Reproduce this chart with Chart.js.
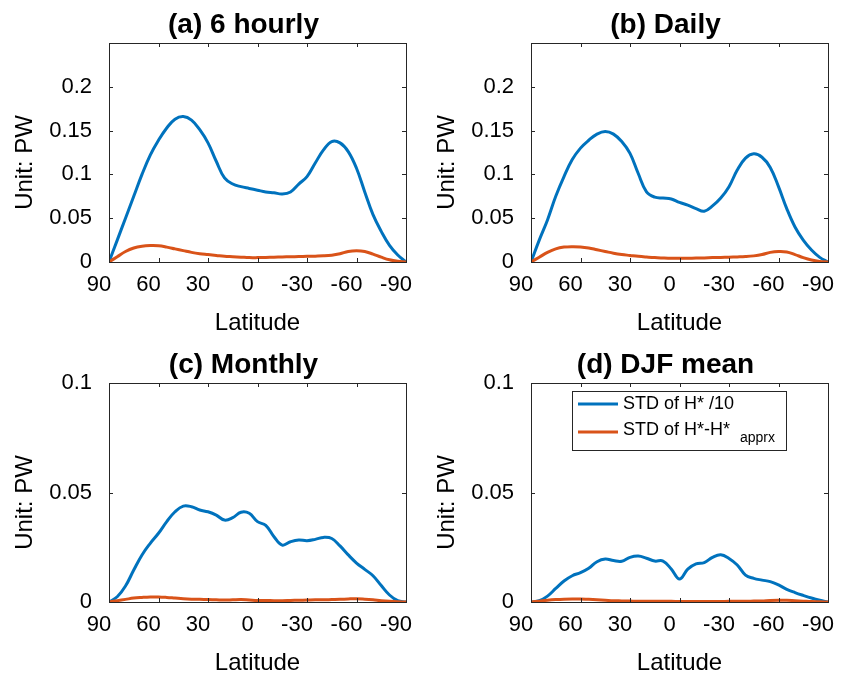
<!DOCTYPE html>
<html>
<head>
<meta charset="utf-8">
<script src="https://cdn.jsdelivr.net/npm/chart.js@4.4.0/dist/chart.umd.min.js"></script>
<style>
  html, body { margin: 0; padding: 0; background: #fff; }
  #fig { position: relative; width: 848px; height: 680px; }
  .panel { position: absolute; width: 424px; height: 340px; }
</style>
</head>
<body>
<div id="fig">
  <div class="panel" style="left:0;top:0"><canvas id="pa" width="424" height="340"></canvas></div>
  <div class="panel" style="left:424px;top:0"><canvas id="pb" width="424" height="340"></canvas></div>
  <div class="panel" style="left:0;top:340px"><canvas id="pc" width="424" height="340"></canvas></div>
  <div class="panel" style="left:424px;top:340px"><canvas id="pd" width="424" height="340"></canvas></div>
</div>
<script>
// latitude, 90N -> 90S every 5 degrees
const lat = [90, 85, 80, 75, 70, 65, 60, 55, 50, 45, 40, 35, 30, 25, 20, 15, 10, 5, 0,
  -5, -10, -15, -20, -25, -30, -35, -40, -45, -50, -55, -60, -65, -70, -75, -80, -85, -90];

// STD of H* /10 (blue) and STD of H*-H*apprx (orange), PW
const std6h = [0, 0.025, 0.050, 0.075, 0.100, 0.122, 0.139, 0.153, 0.163, 0.166, 0.162, 0.151, 0.136, 0.115, 0.096, 0.089, 0.086, 0.084, 0.082,
  0.080, 0.079, 0.0777, 0.080, 0.089, 0.0975, 0.113, 0.128, 0.1375, 0.136, 0.126, 0.107, 0.080, 0.054, 0.035, 0.019, 0.008, 0];
const err6h = [0, 0.006, 0.012, 0.016, 0.018, 0.0187, 0.0185, 0.017, 0.015, 0.013, 0.011, 0.0095, 0.0085, 0.0075, 0.0065, 0.006, 0.0055, 0.005, 0.005,
  0.0052, 0.0055, 0.0058, 0.006, 0.0062, 0.0065, 0.0067, 0.007, 0.0078, 0.0095, 0.012, 0.0128, 0.012, 0.009, 0.0055, 0.0025, 0.0008, 0];

const stdDaily = [0, 0.025, 0.048, 0.075, 0.0975, 0.117, 0.130, 0.139, 0.146, 0.149, 0.146, 0.1375, 0.124, 0.101, 0.080, 0.074, 0.073, 0.072, 0.068,
  0.065, 0.061, 0.058, 0.064, 0.073, 0.086, 0.105, 0.1185, 0.1235, 0.1196, 0.108, 0.086, 0.061, 0.040, 0.025, 0.0137, 0.0053, 0];
const errDaily = [0, 0.0055, 0.011, 0.015, 0.017, 0.0175, 0.0172, 0.016, 0.014, 0.012, 0.010, 0.0085, 0.0075, 0.0065, 0.0057, 0.005, 0.0046, 0.0043, 0.0042,
  0.0043, 0.0045, 0.0047, 0.005, 0.0052, 0.0055, 0.0058, 0.0062, 0.007, 0.0085, 0.011, 0.012, 0.0115, 0.0085, 0.005, 0.0023, 0.0007, 0];

const stdMonthly = [0, 0.0024, 0.0073, 0.0146, 0.0215, 0.0268, 0.0314, 0.0367, 0.0412, 0.0438, 0.0435, 0.042, 0.0412, 0.0397, 0.0374, 0.0385, 0.041, 0.0405, 0.0367,
  0.035, 0.0298, 0.026, 0.0275, 0.0283, 0.028, 0.0286, 0.0295, 0.029, 0.0256, 0.0215, 0.0178, 0.0149, 0.012, 0.0075, 0.0032, 0.0006, 0];
const errMonthly = [0, 0.0006, 0.0012, 0.0018, 0.0021, 0.0023, 0.0023, 0.0021, 0.0018, 0.0015, 0.0013, 0.0012, 0.0011, 0.001, 0.0009, 0.001, 0.0011, 0.0009, 0.0007,
  0.0007, 0.0006, 0.0006, 0.0007, 0.0008, 0.0009, 0.001, 0.001, 0.0011, 0.0012, 0.0014, 0.0015, 0.0013, 0.001, 0.0006, 0.0003, 0.0001, 0];

const stdDJF = [0, 0.0006, 0.0027, 0.0062, 0.0096, 0.012, 0.0134, 0.0154, 0.0184, 0.0196, 0.0189, 0.0186, 0.0204, 0.021, 0.020, 0.0187, 0.0187, 0.0151, 0.0105,
  0.015, 0.0174, 0.018, 0.0204, 0.0216, 0.0199, 0.0169, 0.0123, 0.0108, 0.010, 0.0093, 0.0078, 0.0058, 0.0043, 0.003, 0.0018, 0.0008, 0];
const errDJF = [0, 0.0004, 0.0008, 0.0011, 0.0013, 0.0014, 0.0014, 0.0012, 0.001, 0.0008, 0.0006, 0.0005, 0.0004, 0.0003, 0.0003, 0.0003, 0.0003, 0.0003, 0.0002,
  0.0002, 0.0002, 0.0002, 0.0002, 0.0002, 0.0003, 0.0003, 0.0003, 0.0004, 0.0005, 0.0007, 0.0008, 0.0008, 0.0006, 0.0004, 0.0002, 0.0001, 0];

const BLUE = '#0072BD';
const ORANGE = '#D95319';
const FONT = '"Liberation Sans", Arial, Helvetica, sans-serif';

// matlab-ish box, inward ticks, title, ylabel, legend
const matlabAxes = {
  id: 'matlabAxes',
  afterDraw(chart, args, opts) {
    const {ctx, chartArea: a, scales: {x, y}} = chart;
    ctx.save();
    ctx.strokeStyle = '#262626';
    ctx.lineWidth = 1;
    ctx.strokeRect(a.left + 0.5, a.top + 0.5, a.right - a.left, a.bottom - a.top);
    ctx.beginPath();
    x.ticks.forEach(t => {
      const px = Math.round(x.getPixelForValue(t.value)) + 0.5;
      ctx.moveTo(px, a.bottom); ctx.lineTo(px, a.bottom - 4);
      ctx.moveTo(px, a.top); ctx.lineTo(px, a.top + 4);
    });
    y.ticks.forEach(t => {
      const py = Math.round(y.getPixelForValue(t.value)) + 0.5;
      ctx.moveTo(a.left, py); ctx.lineTo(a.left + 4, py);
      ctx.moveTo(a.right, py); ctx.lineTo(a.right - 4, py);
    });
    ctx.stroke();

    ctx.fillStyle = '#000';
    ctx.font = 'bold 28px ' + FONT;
    ctx.textAlign = 'center';
    ctx.textBaseline = 'alphabetic';
    ctx.fillText(opts.title, (a.left + a.right) / 2 - 14, 33);

    ctx.save();
    ctx.translate(a.left - 84, (a.top + a.bottom) / 2 + 10);
    ctx.rotate(-Math.PI / 2);
    ctx.font = '24px ' + FONT;
    ctx.textBaseline = 'middle';
    ctx.fillText('Unit: PW', 0, 0);
    ctx.restore();

    if (opts.legend) {
      const bx = a.left + 41.5, by = a.top + 8.5;
      ctx.fillStyle = '#fff';
      ctx.fillRect(bx, by, 214, 59);
      ctx.strokeStyle = '#262626';
      ctx.strokeRect(bx, by, 214, 59);
      const rows = [21, 49];
      chart.data.datasets.forEach(ds => {
        const ly = a.top + rows[ds.legendRow];
        ctx.strokeStyle = ds.borderColor;
        ctx.lineWidth = 3;
        ctx.beginPath();
        ctx.moveTo(a.left + 47, ly); ctx.lineTo(a.left + 87, ly);
        ctx.stroke();
        ctx.fillStyle = '#000';
        ctx.font = '18px ' + FONT;
        ctx.textAlign = 'left';
        ctx.textBaseline = 'middle';
        const ty = ly - (ds.legendSub ? 1.5 : 0);
        ctx.fillText(ds.label, a.left + 92, ty);
        if (ds.legendSub) {
          const w = ctx.measureText(ds.label).width;
          ctx.font = '14px ' + FONT;
          ctx.textBaseline = 'alphabetic';
          ctx.fillText(ds.legendSub, a.left + 92 + w + 10, a.top + 58.5);
        }
      });
    }
    ctx.restore();
  }
};

function makePanel(id, title, stdVals, errVals, ymax, ytop, yAxisW, padRight, legend) {
  new Chart(document.getElementById(id), {
    type: 'line',
    data: {
      datasets: [
        {
          label: 'STD of H* /10', legendRow: 0,
          data: stdVals.map((v, i) => ({x: lat[i], y: v})),
          borderColor: BLUE, borderWidth: 3, pointRadius: 0,
          tension: 0.4, order: 1
        },
        {
          label: 'STD of H*-H*', legendSub: 'apprx', legendRow: 1,
          data: errVals.map((v, i) => ({x: lat[i], y: v})),
          borderColor: ORANGE, borderWidth: 3, pointRadius: 0,
          tension: 0.4, order: 0
        }
      ]
    },
    options: {
      responsive: false,
      animation: false,
      devicePixelRatio: 1,
      layout: {padding: {left: 0, right: padRight, top: 43, bottom: 0}},
      plugins: {
        legend: {display: false},
        tooltip: {enabled: false},
        matlabAxes: {title: title, legend: legend}
      },
      scales: {
        x: {
          type: 'linear', reverse: true, min: -90, max: 90,
          afterFit: s => { s.height = 78; s.paddingLeft = 0; s.paddingRight = 0; },
          grid: {display: false, drawTicks: false},
          border: {display: false},
          ticks: {
            stepSize: 30, autoSkip: false, maxRotation: 0, padding: 10, labelOffset: -10,
            color: '#000', font: {family: FONT, size: 22},
            callback: v => String(v)
          },
          title: {display: true, text: 'Latitude', color: '#000', font: {family: FONT, size: 24}, padding: {top: 0, bottom: 2}}
        },
        y: {
          type: 'linear', min: 0, max: ymax,
          afterFit: s => { s.width = yAxisW; s.paddingTop = 0; s.paddingBottom = 0; },
          grid: {display: false, drawTicks: false},
          border: {display: false},
          ticks: {
            stepSize: 0.05, padding: 17, color: '#000', font: {family: FONT, size: 22},
            callback: v => (v > ytop + 1e-9 ? '' : String(+v.toFixed(3)))
          }
        }
      }
    },
    plugins: [matlabAxes]
  });
}

makePanel('pa', '(a) 6 hourly', std6h, err6h, 0.25, 0.2, 109, 18, false);
makePanel('pb', '(b) Daily', stdDaily, errDaily, 0.25, 0.2, 107, 20, false);
makePanel('pc', '(c) Monthly', stdMonthly, errMonthly, 0.1, 0.1, 109, 18, false);
makePanel('pd', '(d) DJF mean', stdDJF, errDJF, 0.1, 0.1, 107, 20, true);
</script>
</body>
</html>
